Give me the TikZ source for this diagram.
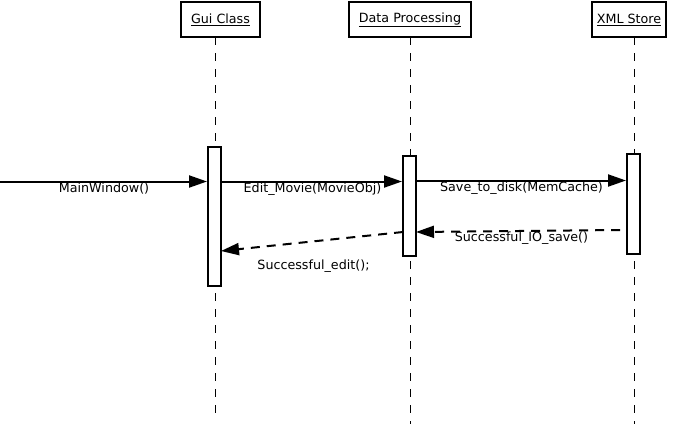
\documentclass[tikz,border=0pt]{standalone}
\usepackage{fontspec}
\setmainfont{DejaVu Sans}
\usetikzlibrary{arrows.meta}
\begin{document}
\begin{tikzpicture}[x=1pt,y=-1pt,
  header/.style={draw,line width=2pt,minimum height=35pt,inner sep=0pt,
    font=\fontsize{12.7}{14}\selectfont},
  lifeline/.style={line width=1pt,dash pattern=on 8pt off 8pt},
  act/.style={draw,line width=2pt,fill=white,minimum width=13pt,inner sep=0pt},
  msg/.style={line width=2pt,-{Triangle[length=18pt,width=12pt]}},
  ret/.style={line width=2pt,dash pattern=on 9pt off 7pt,
    -{Triangle[length=18pt,width=12pt]}},
  lbl/.style={inner sep=0pt,font=\fontsize{12.7}{14}\selectfont}]
\useasboundingbox (0,0) rectangle (679,424);

% object headers
\node[header,minimum width=79pt]  (gui) at (220.5,19.5) {\underline{Gui Class}};
\node[header,minimum width=122pt] (dp)  at (410,19.5)   {\underline{Data Processing}};
\node[header,minimum width=74pt]  (xml) at (629,19.5)   {\underline{XML Store}};

% lifelines
\coordinate (guitop) at (215,37);  \coordinate (guiend) at (215,415);
\coordinate (dptop)  at (410,37);  \coordinate (dpend)  at (410,424);
\coordinate (xmltop) at (634,37);  \coordinate (xmlend) at (634,424);
\draw[lifeline] (guitop) -- (guiend);
\draw[lifeline] (dptop) -- (dpend);
\draw[lifeline] (xmltop) -- (xmlend);

% activation bars
\node[act,minimum height=139pt] (guiact) at (214.5,216.5) {};
\node[act,minimum height=100pt] (dpact)  at (409.5,206)   {};
\node[act,minimum height=100pt] (xmlact) at (633.5,204)   {};

% calls
\coordinate (start) at (0,181.5);
\draw[msg] (start) -- (guiact.west |- start);
\node[lbl] (l1) at (104,189) {MainWindow()};

\coordinate (c2) at (221,181.5);
\draw[msg] (guiact.east |- c2) -- (dpact.west |- c2);
\node[lbl] (l2) at (312.5,189.5) {Edit\_Movie(MovieObj)};

\coordinate (c3) at (416,180.5);
\draw[msg] (dpact.east |- c3) -- (xmlact.west |- c3);
\node[lbl] (l3) at (521.5,188) {Save\_to\_disk(MemCache)};

% returns
\coordinate (r1s) at (620,230);
\coordinate (r1e) at (416,232);
\draw[ret] (r1s) -- (r1e);
\node[lbl] (l4) at (521.5,238) {Successful\_IO\_save()};

\coordinate (r2s) at (403,232);
\coordinate (r2e) at (221,251);
\draw[ret] (r2s) -- (r2e);
\node[lbl] (l5) at (313.5,266.5) {Successful\_edit();};
\end{tikzpicture}
\end{document}
